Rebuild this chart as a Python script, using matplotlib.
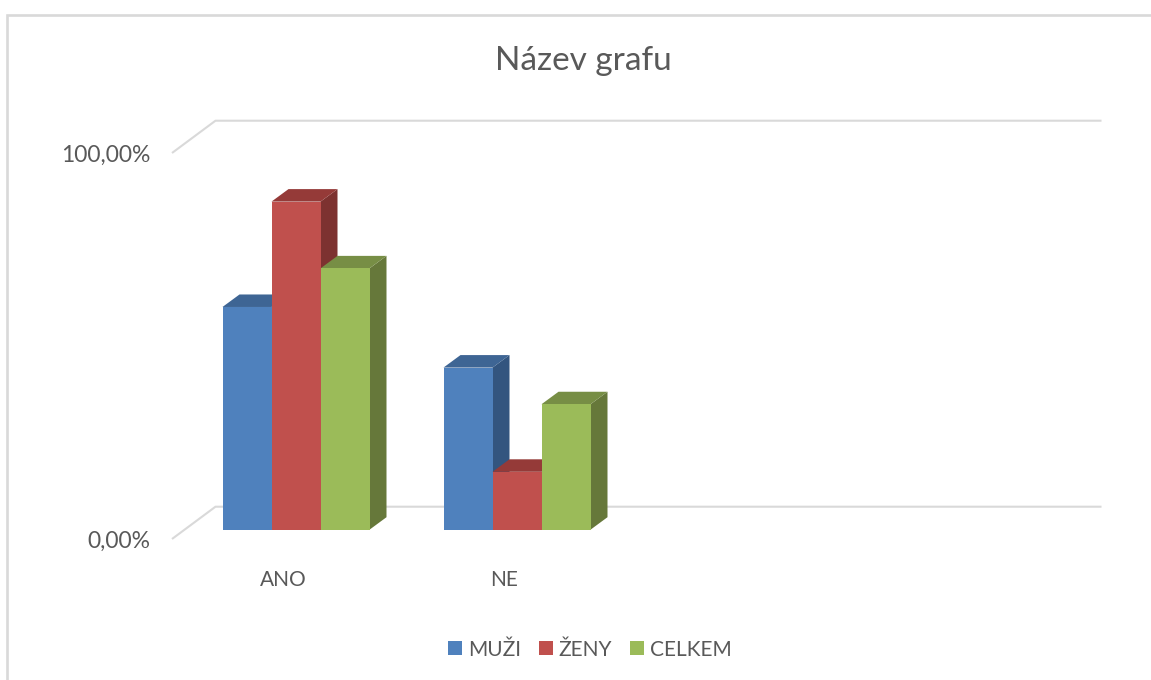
import matplotlib
matplotlib.use("Agg")
import matplotlib.pyplot as plt
from matplotlib.lines import Line2D
from matplotlib.patches import Patch

plt.rcParams["font.family"] = ["Lato", "DejaVu Sans"]

W, H = 1151, 680
TXT = "#595959"
GRID = "#D9D9D9"

# data
categories = ["ANO", "NE"]
series_names = ["MUŽI", "ŽENY", "CELKEM"]
muzi = [57.7, 42]
zeny = [85, 15]
celkem = [67.7, 32.5]
all_values = [muzi, zeny, celkem]
yticks = [0, 100]
ylabels = ["0,00%", "100,00%"]

front = ["#4F81BD", "#C0504D", "#9BBB59"]
top = ["#3E6594", "#953A38", "#778E45"]
side = ["#33557F", "#7D3230", "#66783A"]

fig = plt.figure(figsize=(W / 100, H / 100), dpi=100, facecolor="white")
ax = fig.add_axes([185.5 / W, (H - 529.7) / H, 884 / W, 386 / H])
ax.set_xlim(-0.5, 3.5)
ax.set_ylim(0, 100)
ax.axis("off")

# px -> data units
px_x = 4 / 884
px_y = 100 / 386
bw = 49 * px_x
dx = 17 * px_x
dy = 12.5 * px_y

# outer chart frame
fig.add_artist(Line2D([7 / W, 7 / W, 1], [0, (H - 14.5) / H, (H - 14.5) / H],
                      color=GRID, lw=1.9, solid_joinstyle="miter"))

# walls: front corner -> back corner -> along the back
for t in yticks:
    ax.plot([-0.5 - 13.5 * px_x, -0.5 + 30 * px_x, 3.5 + 32 * px_x],
            [t - 9.3 * px_y, t + 23 * px_y, t + 23 * px_y],
            color=GRID, lw=1.5, clip_on=False, zorder=1, solid_capstyle="butt")

# 3D bars
z = 2
for i in range(len(categories)):
    for j, vals in enumerate(all_values):
        v = vals[i]
        x0 = i + (j - 1.5) * bw
        x1 = x0 + bw
        ax.fill([x1, x1 + dx, x1 + dx, x1], [0, dy, v + dy, v],
                color=side[j], lw=0, clip_on=False, zorder=z)
        ax.fill([x0, x0 + dx, x1 + dx, x1], [v, v + dy, v + dy, v],
                color=top[j], lw=0, clip_on=False, zorder=z)
        ax.bar(x0, v, bw, align="edge", color=front[j], lw=0, zorder=z + 1)
        z += 2

for i, c in enumerate(categories):
    ax.annotate(c, xy=(i, 0), xytext=(-13, -50), textcoords="offset pixels",
                ha="center", va="center", fontsize=15, color=TXT, annotation_clip=False)
for t, lab in zip(yticks, ylabels):
    ax.annotate(lab, xy=(-0.5, t), xytext=(-35.5, -12), textcoords="offset pixels",
                ha="right", va="center", fontsize=16.5, color=TXT, annotation_clip=False)

fig.text(583 / W, (H - 61.5) / H, "Název grafu", ha="center", va="center",
         fontsize=24, color=TXT)

handles = [Patch(facecolor=c, lw=0) for c in front]
fig.legend(handles, series_names, loc="center", bbox_to_anchor=(590 / W, (H - 649.5) / H),
           ncol=3, frameon=False, fontsize=15, labelcolor=TXT,
           handlelength=0.65, handleheight=0.65, handletextpad=0.3, columnspacing=0.85)

fig.savefig("out.png", dpi=100)
